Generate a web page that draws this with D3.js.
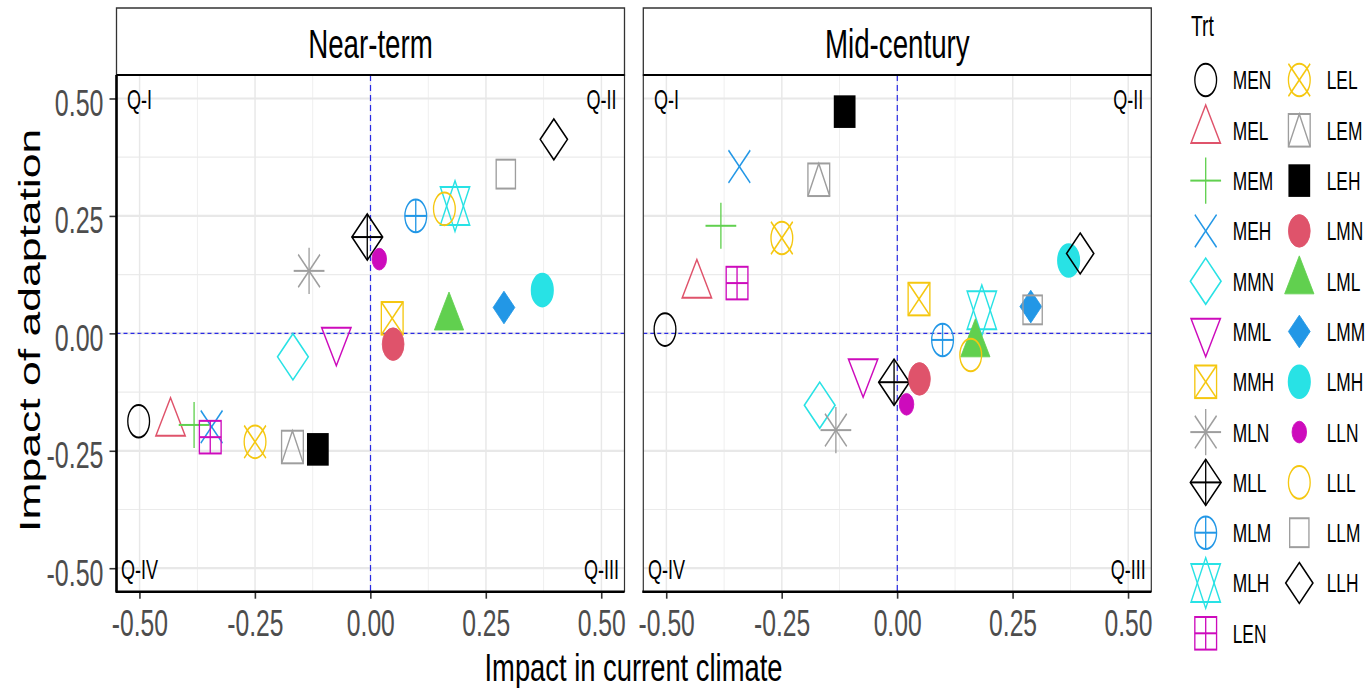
<!DOCTYPE html>
<html>
<head>
<meta charset="utf-8">
<script src="https://cdn.jsdelivr.net/npm/d3@7"></script>
<style>
  html, body { margin: 0; padding: 0; background: #fff; }
  svg { display: block; }
  text { font-family: "Liberation Sans", Arial, Helvetica, sans-serif; }
</style>
</head>
<body>
<script>
// Treatments, their plotting symbols (R pch codes) and colours
const treatments = ["MEN","MEL","MEM","MEH","MMN","MML","MMH","MLN","MLL","MLM","MLH","LEN",
                    "LEL","LEM","LEH","LMN","LML","LMM","LMH","LLN","LLL","LLM","LLH"];
const shapeCodes = [1,2,3,4,5,6,7,8,9,10,11,12,13,14,15,16,17,18,19,20,21,22,23];
const colors = ["#000000","#DF536B","#61D04F","#2297E6","#28E2E5","#CD0BBC","#F5C710","#9E9E9E",
                "#000000","#2297E6","#28E2E5","#CD0BBC","#F5C710","#9E9E9E","#000000","#DF536B",
                "#61D04F","#2297E6","#28E2E5","#CD0BBC","#F5C710","#9E9E9E","#000000"];

// Near-term: impact in current climate (x) and impact of adaptation (y)
const nearTermCurrent = [-0.502,-0.433,-0.382,-0.344,-0.168,-0.074,0.047,-0.133,-0.007,0.098,0.183,-0.347,
                         -0.250,-0.169,-0.114,0.049,0.170,0.289,0.372,0.019,0.160,0.293,0.397];
const nearTermAdapt   = [-0.187,-0.191,-0.195,-0.199,-0.050,-0.015,0.032,0.133,0.205,0.250,0.271,-0.221,
                         -0.231,-0.242,-0.247,-0.023,0.034,0.055,0.092,0.158,0.265,0.339,0.413];

// Mid-century
const midCenturyCurrent = [-0.503,-0.434,-0.382,-0.342,-0.168,-0.074,0.047,-0.133,-0.007,0.098,0.183,-0.347,
                           -0.250,-0.170,-0.114,0.048,0.169,0.289,0.371,0.020,0.159,0.293,0.396];
const midCenturyAdapt   = [0.008,0.103,0.229,0.355,-0.153,-0.082,0.073,-0.206,-0.104,-0.014,0.049,0.107,
                           0.203,0.327,0.472,-0.097,-0.023,0.057,0.155,-0.151,-0.046,0.050,0.170];

const panelTitles = ["Near-term", "Mid-century"];
const tickValues = [-0.5, -0.25, 0, 0.25, 0.5];
const tickLabels = ["-0.50", "-0.25", "0.00", "0.25", "0.50"];
const minorBreaks = [-0.375, -0.125, 0.125, 0.375];
const quadrantLabels = ["Q-I", "Q-II", "Q-III", "Q-IV"];
const quadrantX = [-0.5, 0.5, 0.5, -0.5];
const quadrantY = [0.5, 0.5, -0.5, -0.5];

const panelData = [
  treatments.map((t, i) => ({ trt: t, x: nearTermCurrent[i], y: nearTermAdapt[i], pch: shapeCodes[i], col: colors[i] })),
  treatments.map((t, i) => ({ trt: t, x: midCenturyCurrent[i], y: midCenturyAdapt[i], pch: shapeCodes[i], col: colors[i] }))
];

// ---- layout ----
const W = 1368, H = 688;
const SX = 0.667;                 // horizontal squeeze of the whole drawing
const v = px => px / SX;          // screen x -> drawing units
const stripTop = 8, panelTop = 75, panelBottom = 591.7;
const panelLefts = [116.5, 643.3], panelWidth = 508;
const R = 16.3;                   // symbol radius unit

const svg = d3.select("body").append("svg").attr("width", W).attr("height", H);
svg.append("rect").attr("width", W).attr("height", H).attr("fill", "#fff");
const root = svg.append("g").attr("transform", `scale(${SX},1)`);

function drawShape(sel, pch, col) {
  const g = sel.append("g");
  const sw = 2;
  const open = el => el.attr("fill", "none").attr("stroke", col).attr("stroke-width", sw);
  const line = (x1, y1, x2, y2) => open(g.append("line").attr("x1", x1).attr("y1", y1).attr("x2", x2).attr("y2", y2));
  const poly = pts => g.append("polygon").attr("points", pts.map(p => p.join(",")).join(" "));
  const circle = r => g.append("circle").attr("r", r);
  const square = h => g.append("rect").attr("x", -h).attr("y", -h).attr("width", 2 * h).attr("height", 2 * h);
  const plus = h => { line(-h, 0, h, 0); line(0, -h, 0, h); };
  const cross = h => { line(-h, -h, h, h); line(-h, h, h, -h); };
  const diamond = h => poly([[0, -h], [h, 0], [0, h], [-h, 0]]);
  const tr = 1.5551 * R, tx = 1.3468 * R, ty = 0.7776 * R;
  const triUp = () => poly([[0, -tr], [tx, ty], [-tx, ty]]);
  const triDown = () => poly([[0, tr], [tx, -ty], [-tx, -ty]]);
  const filled = el => el.attr("fill", col).attr("stroke", col).attr("stroke-width", 1);
  switch (pch) {
    case 1: open(circle(R)); break;
    case 2: open(triUp()); break;
    case 3: plus(Math.SQRT2 * R); break;
    case 4: cross(R); break;
    case 5: open(diamond(Math.SQRT2 * R)); break;
    case 6: open(triDown()); break;
    case 7: open(square(R)); cross(R); break;
    case 8: cross(R); plus(Math.SQRT2 * R); break;
    case 9: open(diamond(Math.SQRT2 * R)); plus(Math.SQRT2 * R); break;
    case 10: open(circle(R)); plus(R); break;
    case 11: {
      const yc = 1.1664 * R;
      open(poly([[0, -tr], [tx, yc], [-tx, yc]]));
      open(poly([[0, tr], [tx, -yc], [-tx, -yc]]));
      break;
    }
    case 12: open(square(R)); plus(R); break;
    case 13: open(circle(R)); cross(R); break;
    case 14: open(square(R)); open(g.append("polyline").attr("points", `${-R},${R} 0,${-R} ${R},${R}`)); break;
    case 15: square(R).attr("fill", col); break;
    case 16: filled(circle(R)); break;
    case 17: filled(triUp()); break;
    case 18: filled(diamond(R)); break;
    case 19: filled(circle(R)).attr("stroke-width", 2); break;
    case 20: filled(circle(R * 2 / 3)); break;
    case 21: open(circle(R)); break;
    case 22: open(square(0.8862 * R)); break;
    case 23: open(diamond(1.2533 * R)); break;
  }
  return g;
}

function label(sel, str, x, y, size, opts = {}) {
  return sel.append("text").attr("x", x).attr("y", y).attr("font-size", size)
    .attr("fill", opts.fill || "#000").attr("text-anchor", opts.anchor || "start").text(str);
}

const y = d3.scaleLinear().domain([-0.55, 0.55]).range([panelBottom, panelTop]);

panelTitles.forEach((title, i) => {
  const left = v(panelLefts[i]), right = v(panelLefts[i] + panelWidth);
  const x = d3.scaleLinear().domain([-0.55, 0.55]).range([left, right]);
  const g = root.append("g");

  // grid
  const grid = g.append("g");
  minorBreaks.forEach(b => {
    grid.append("line").attr("x1", x(b)).attr("x2", x(b)).attr("y1", panelTop).attr("y2", panelBottom)
      .attr("stroke", "#ebebeb").attr("stroke-width", 1.2);
    grid.append("line").attr("x1", left).attr("x2", right).attr("y1", y(b)).attr("y2", y(b))
      .attr("stroke", "#ebebeb").attr("stroke-width", 1.2);
  });
  tickValues.forEach(b => {
    grid.append("line").attr("x1", x(b)).attr("x2", x(b)).attr("y1", panelTop).attr("y2", panelBottom)
      .attr("stroke", "#e8e8e8").attr("stroke-width", 2.2);
    grid.append("line").attr("x1", left).attr("x2", right).attr("y1", y(b)).attr("y2", y(b))
      .attr("stroke", "#e8e8e8").attr("stroke-width", 2.2);
  });

  // reference lines at zero
  g.append("line").attr("x1", x(0)).attr("x2", x(0)).attr("y1", panelTop).attr("y2", panelBottom)
    .attr("stroke", "#2a2ae6").attr("stroke-width", 1.2).attr("stroke-dasharray", "6,4")
    .attr("vector-effect", "non-scaling-stroke");
  g.append("line").attr("x1", left).attr("x2", right).attr("y1", y(0)).attr("y2", y(0))
    .attr("stroke", "#2a2ae6").attr("stroke-width", 1.2).attr("stroke-dasharray", "4,3")
    .attr("vector-effect", "non-scaling-stroke");

  // quadrant labels
  quadrantLabels.forEach((q, k) => {
    label(g, q, x(quadrantX[k]), y(quadrantY[k]) + 11, 27, { anchor: "middle" });
  });

  // points
  panelData[i].forEach(d => {
    drawShape(g, d.pch, d.col).attr("transform", `translate(${x(d.x)},${y(d.y)})`);
  });

  // strip
  g.append("rect").attr("x", left).attr("y", stripTop).attr("width", right - left).attr("height", panelTop - stripTop)
    .attr("fill", "#fff").attr("stroke", "#333").attr("stroke-width", 1.3).attr("vector-effect", "non-scaling-stroke");
  label(g, title, (left + right) / 2, 58.3, 41.5, { anchor: "middle" });

  // panel frame
  g.append("rect").attr("x", left).attr("y", panelTop).attr("width", right - left).attr("height", panelBottom - panelTop)
    .attr("fill", "none").attr("stroke", "#333").attr("stroke-width", 1.2).attr("vector-effect", "non-scaling-stroke");
  g.append("line").attr("x1", left).attr("x2", right).attr("y1", panelTop).attr("y2", panelTop)
    .attr("stroke", "#000").attr("stroke-width", 2.2).attr("vector-effect", "non-scaling-stroke");

  // x axis
  const xAxis = d3.axisBottom(x).tickValues(tickValues).tickFormat((d, k) => tickLabels[k])
    .tickSize(7).tickPadding(11.3);
  const gx = g.append("g").attr("transform", `translate(0,${panelBottom})`).call(xAxis);
  gx.select(".domain").remove();
  gx.selectAll(".tick line").attr("stroke", "#333").attr("stroke-width", 1.6).attr("vector-effect", "non-scaling-stroke");
  gx.selectAll(".tick text").attr("font-size", 37).attr("fill", "#4d4d4d")
    .attr("font-family", "Liberation Sans, Arial, sans-serif");
  g.append("line").attr("x1", left - v(1)).attr("x2", right).attr("y1", panelBottom).attr("y2", panelBottom)
    .attr("stroke", "#000").attr("stroke-width", 2.6).attr("vector-effect", "non-scaling-stroke");

  // y axis on the first panel only
  if (i === 0) {
    const yAxis = d3.axisLeft(y).tickValues(tickValues).tickFormat((d, k) => tickLabels[k])
      .tickSize(v(7)).tickPadding(v(6));
    const gy = g.append("g").attr("transform", `translate(${left},0)`).call(yAxis);
    gy.select(".domain").remove();
    gy.selectAll(".tick line").attr("stroke", "#333").attr("stroke-width", 1.6).attr("vector-effect", "non-scaling-stroke");
    gy.selectAll(".tick text").attr("font-size", 37.5).attr("fill", "#4d4d4d").attr("dy", "0.45em")
      .attr("font-family", "Liberation Sans, Arial, sans-serif");
    g.append("line").attr("x1", left).attr("x2", left).attr("y1", panelTop).attr("y2", panelBottom)
      .attr("stroke", "#000").attr("stroke-width", 2.6).attr("vector-effect", "non-scaling-stroke");
  }
});

// axis titles
label(root, "Impact in current climate", v(633.5), 681, 38, { anchor: "middle" })
  .attr("textLength", v(298)).attr("lengthAdjust", "spacingAndGlyphs");
root.append("text").attr("transform", `translate(${v(40)},${(panelTop + panelBottom) / 2 - 3}) rotate(-90)`)
  .attr("text-anchor", "middle").attr("font-size", 44.5).attr("fill", "#000").text("Impact of adaptation");

// legend
const legend = root.append("g");
label(legend, "Trt", v(1191), 36, 29);
const rowsPerCol = 12;
const legendSymX = [1205.7, 1299.3], legendTextX = [1232.7, 1326.7];
treatments.forEach((t, i) => {
  const col = Math.floor(i / rowsPerCol), row = i % rowsPerCol;
  const cy = 80 + row * 50.3;
  drawShape(legend, shapeCodes[i], colors[i]).attr("transform", `translate(${v(legendSymX[col])},${cy})`);
  label(legend, t, v(legendTextX[col]), cy + 9.5, 26);
});
</script>
</body>
</html>
